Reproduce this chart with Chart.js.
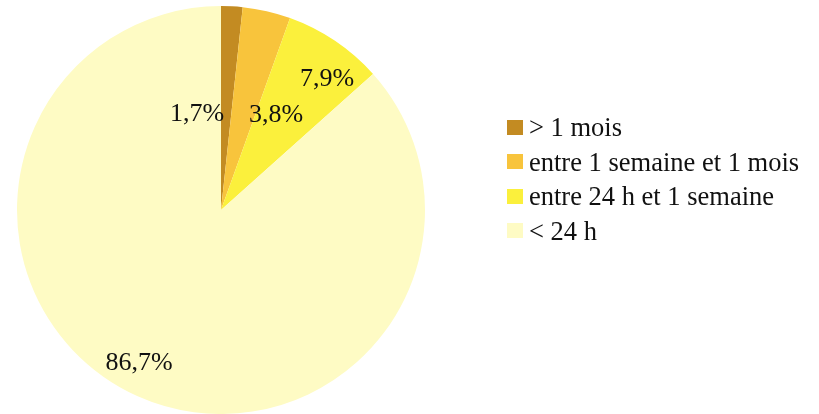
<!DOCTYPE html>
<html>
<head>
<meta charset="utf-8">
<script src="https://cdn.jsdelivr.net/npm/chart.js@4"></script>
<style>
    html, body { margin: 0; padding: 0; background: #fff; }
    #wrap { position: relative; width: 819px; height: 414px; }
    #legend {
        position: absolute; left: 507px; top: 110px;
        font-family: "Liberation Serif", "Times New Roman", serif;
        font-size: 26.5px; color: #111;
    }
    #legend .row { height: 34.5px; line-height: 34.5px; display: flex; align-items: center; white-space: nowrap; }
    #legend .box { width: 16px; height: 15px; margin-right: 6px; flex: none; }
</style>
</head>
<body>
<div id="wrap">
    <canvas id="pie" width="819" height="414"></canvas>
    <div id="legend"></div>
</div>
<script>
const categories = ["> 1 mois", "entre 1 semaine et 1 mois", "entre 24 h et 1 semaine", "< 24 h"];
const shares = [1.7, 3.8, 7.9, 86.7];
const colors = ["#C38B22", "#F8C43C", "#FBF03C", "#FEFBC4"];

// where each percentage sits, relative to the pie centre
const labelOffsets = [[-24, -96], [55, -95], [106, -131], [-82, 153]];

const pieLabels = {
    id: "pieLabels",
    afterDatasetsDraw(chart) {
        const ctx = chart.ctx;
        const arcs = chart.getDatasetMeta(0).data;
        ctx.save();
        ctx.font = '26px "Liberation Serif", serif';
        ctx.fillStyle = "#111";
        ctx.textAlign = "center";
        ctx.textBaseline = "middle";
        arcs.forEach((arc, i) => {
            const txt = shares[i].toFixed(1).replace(".", ",") + "%";
            ctx.fillText(txt, arc.x + labelOffsets[i][0], arc.y + labelOffsets[i][1]);
        });
        ctx.restore();
    }
};

const chart = new Chart(document.getElementById("pie"), {
    type: "pie",
    data: {
        labels: categories,
        datasets: [{
            data: shares,
            backgroundColor: colors,
            borderWidth: 0
        }]
    },
    options: {
        responsive: false,
        animation: false,
        layout: { padding: { left: 0, right: 377, top: 6, bottom: 0 } },
        plugins: {
            legend: { display: false },
            tooltip: { enabled: false }
        }
    },
    plugins: [pieLabels]
});

// html legend built from the chart's own legend items
const legendEl = document.getElementById("legend");
chart.options.plugins.legend.labels.generateLabels(chart).forEach(item => {
    const row = document.createElement("div");
    row.className = "row";
    const box = document.createElement("span");
    box.className = "box";
    box.style.background = item.fillStyle;
    const txt = document.createElement("span");
    txt.textContent = item.text;
    row.appendChild(box);
    row.appendChild(txt);
    legendEl.appendChild(row);
});
</script>
</body>
</html>
